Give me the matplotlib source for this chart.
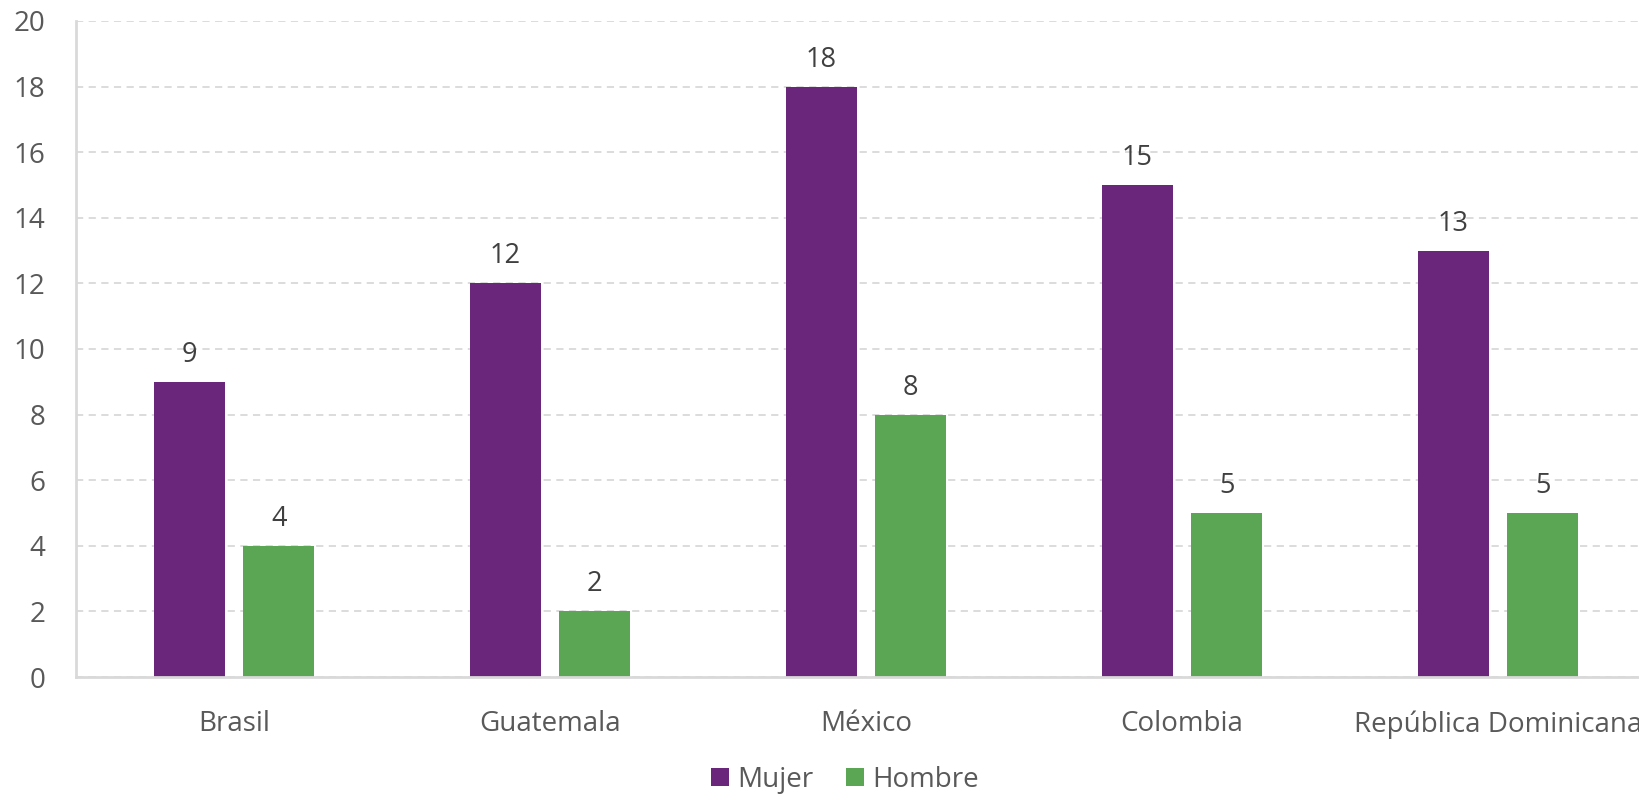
import numpy as np
import matplotlib
matplotlib.use("Agg")
import matplotlib.pyplot as plt

paises = ["Brasil", "Guatemala", "México", "Colombia", "República Dominicana"]
mujer = [9, 12, 18, 15, 13]
hombre = [4, 2, 8, 5, 5]

morado = "#6A267A"
verde = "#5BA655"
gris_texto = "#595959"
gris_linea = "#D9D9D9"

plt.rcParams["font.family"] = ["Open Sans", "DejaVu Sans"]

fig = plt.figure(figsize=(16.4, 7.96), dpi=100)
ax = fig.add_axes([76 / 1640, 1 - 677 / 796, 1 - 76 / 1640, (677 - 21) / 796])

x = np.arange(len(paises))
ancho = 0.225
b1 = ax.bar(x - 0.142, mujer, ancho, color=morado, label="Mujer")
b2 = ax.bar(x + 0.142, hombre, ancho, color=verde, label="Hombre")

for barras in (b1, b2):
    for b in barras:
        ax.annotate(f"{b.get_height():g}", (b.get_x() + b.get_width() / 2, b.get_height()),
                    xytext=(0, 20), textcoords="offset pixels", ha="center", va="baseline",
                    fontsize=19.5, color="#404040")

ax.set_xlim(-0.5, -0.5 + (1640 - 76) / 316)
ax.set_ylim(0, 20)
ax.set_yticks(range(0, 21, 2))
ax.set_xticks(x)
ax.set_xticklabels(paises)
ax.tick_params(axis="both", length=0, labelsize=20, colors=gris_texto)
ax.tick_params(axis="x", pad=24)
ax.tick_params(axis="y", pad=22)

ax.grid(axis="y", color=gris_linea, linestyle=(0, (4, 3)), linewidth=1.3)
ax.set_axisbelow(True)
for s in ["top", "right"]:
    ax.spines[s].set_visible(False)
for s in ["left", "bottom"]:
    ax.spines[s].set_color(gris_linea)
    ax.spines[s].set_linewidth(2)

fig.legend(loc="center", bbox_to_anchor=(845 / 1640, 1 - 780 / 796), ncol=2, frameon=False,
           fontsize=20, labelcolor=gris_texto, handlelength=0.62, handleheight=0.62,
           handletextpad=0.3, columnspacing=1.2)

fig.savefig("out.png", dpi=100)
